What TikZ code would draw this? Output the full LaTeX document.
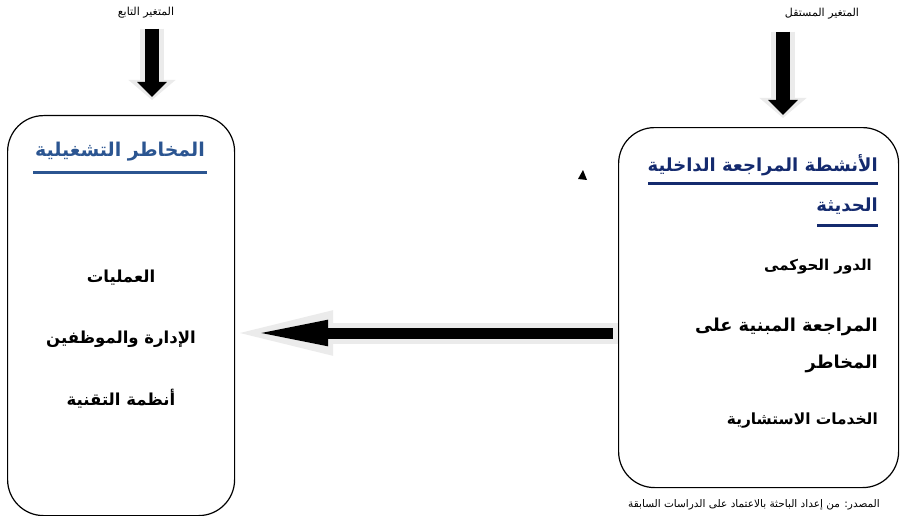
\documentclass[tikz,border=0pt]{standalone}
\usepackage{fontspec}
\usetikzlibrary{arrows.meta,calc}
\TeXXeTstate=1
\newfontfamily\arabicfont[Script=Arabic]{DejaVu Sans}
\definecolor{titleblue}{HTML}{2B5591}
\definecolor{titlenavy}{HTML}{142A6E}
\definecolor{shadowgray}{HTML}{EBEBEB}
\tikzset{
  box/.style={draw, line width=1.2pt, rounded corners=36pt, inner sep=0pt},
  ar/.style={font=\arabicfont\bfseries, inner sep=0pt},
  small/.style={font=\arabicfont\fontsize{11}{12}\selectfont, inner sep=0pt},
  ulinel/.style={titleblue, line width=3pt},
  ulinen/.style={titlenavy, line width=3pt},
  vshadow/.style={shadowgray, line width=24pt, -{Triangle[length=20pt,width=46pt]}},
  vblack/.style={black, line width=14pt, -{Triangle[length=15pt,width=29pt]}},
  hshadow/.style={shadowgray, line width=21pt, -{Triangle[length=112pt,width=38pt]}},
  hblack/.style={black, line width=11pt, -{Triangle[length=75pt,width=23pt]}},
}
\begin{document}
\begin{tikzpicture}[x=1pt,y=-1pt]
\useasboundingbox (0,0) rectangle (901,516);
% boxes
\node[box, minimum width=227pt, minimum height=400pt, anchor=north west] (L) at (7,115) {};
\node[box, minimum width=280pt, minimum height=360pt, anchor=north west] (R) at (618,127) {};
% top labels
\node[small, anchor=center] (LT) at (146,13) {\beginR المتغير التابع\endR};
\node[small, anchor=center] (RT) at (822,14) {\beginR المتغير المستقل\endR};
% vertical arrows
\draw[vshadow, shorten <=10pt, shorten >=15pt] (LT.south -| 152,0) -- (152,0 |- L.north);
\draw[vblack, shorten <=10pt, shorten >=18pt] (LT.south -| 152,0) -- (152,0 |- L.north);
\draw[vshadow, shorten <=12pt, shorten >=9pt] (RT.south -| 783,0) -- (783,0 |- R.north);
\draw[vblack, shorten <=12pt, shorten >=12pt] (RT.south -| 783,0) -- (783,0 |- R.north);
% horizontal arrow
\draw[hshadow, shorten <=0pt, shorten >=-14pt] (R.west |- 0,333) -- (L.east |- 0,333);
\draw[hblack, shorten <=5pt, shorten >=18pt] (R.west |- 0,333) -- (L.east |- 0,333);
% small triangle
\fill (578,179) -- (583,170) -- (587,180) -- cycle;
% left box text
\node[ar, titleblue, font=\arabicfont\bfseries\fontsize{19}{22}\selectfont] (LTit) at (120,152) {\beginR المخاطر التشغيلية\endR};
\draw[ulinel] (33,172) -- (207,172);
\node[ar, font=\arabicfont\bfseries\fontsize{16.5}{19}\selectfont] (L1) at (121,278) {\beginR العمليات\endR};
\node[ar, font=\arabicfont\bfseries\fontsize{16.5}{19}\selectfont] (L2) at (121,339) {\beginR الإدارة والموظفين\endR};
\node[ar, font=\arabicfont\bfseries\fontsize{16.5}{19}\selectfont] (L3) at (121,399) {\beginR أنظمة التقنية\endR};
% right box text
\node[ar, titlenavy, anchor=east, font=\arabicfont\bfseries\fontsize{18}{21}\selectfont] (RTit1) at (878,165) {\beginR الأنشطة المراجعة الداخلية\endR};
\draw[ulinen] (648,183) -- (878,183);
\node[ar, titlenavy, anchor=east, font=\arabicfont\bfseries\fontsize{18}{21}\selectfont] (RTit2) at (878,206) {\beginR الحديثة\endR};
\draw[ulinen] (817,225) -- (878,225);
\node[ar, anchor=east, font=\arabicfont\bfseries\fontsize{15}{18}\selectfont] (R1) at (872,267) {\beginR الدور الحوكمى\endR};
\node[ar, anchor=east, font=\arabicfont\bfseries\fontsize{17.8}{21}\selectfont] (R2) at (878,327) {\beginR المراجعة المبنية على\endR};
\node[ar, anchor=east, font=\arabicfont\bfseries\fontsize{17.8}{21}\selectfont] (R3) at (878,364) {\beginR المخاطر\endR};
\node[ar, anchor=east, font=\arabicfont\bfseries\fontsize{15.4}{18}\selectfont] (R4) at (878,421) {\beginR الخدمات الاستشارية\endR};
% bottom source text
\node[small, anchor=east, font=\arabicfont\fontsize{10.5}{12}\selectfont] (SRC) at (880,505) {\beginR المصدر: من إعداد الباحثة بالاعتماد على الدراسات السابقة\endR};
\end{tikzpicture}
\end{document}
